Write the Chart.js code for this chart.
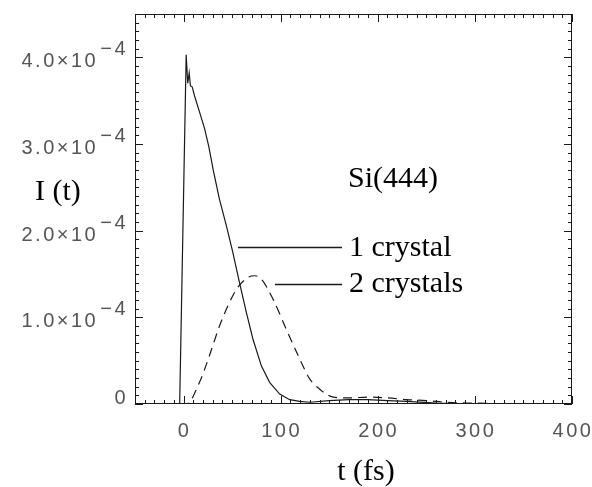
<!DOCTYPE html>
<html>
<head>
<meta charset="utf-8">
<script src="https://cdn.jsdelivr.net/npm/chart.js@4/dist/chart.umd.min.js"></script>
<style>
  body { margin: 0; background: #fff; }
  canvas { display: block; }
</style>
</head>
<body>
<canvas id="c" width="592" height="487"></canvas>
<script>
// time in fs, intensity in units of 1e-4
var t1 = [-50, -4, 2.7, 4.3, 5.8, 7.1, 8.9, 11.2, 16.4, 21.6, 26, 30.9, 37, 44, 50.5, 57.6, 64.6, 71.4, 80.1, 88.6, 99, 109.3, 119.6, 130, 150, 170, 190, 210, 230, 260, 300, 400];
var i1 = [0, 0, 4.03, 3.70, 3.82, 3.67, 3.66, 3.56, 3.37, 3.18, 2.97, 2.68, 2.36, 2.06, 1.76, 1.40, 1.06, 0.75, 0.44, 0.25, 0.115, 0.05, 0.03, 0.02, 0.04, 0.05, 0.05, 0.04, 0.03, 0.01, 0, 0];

var t2 = [-50, 3, 16.4, 26.7, 37, 45.6, 54.3, 66.3, 73.2, 80.1, 92.1, 105.9, 119.6, 129.9, 140.2, 154, 170, 190, 210, 230, 250, 270, 300, 350, 400];
var i2 = [0, 0, 0.25, 0.56, 0.90, 1.13, 1.32, 1.46, 1.48, 1.44, 1.21, 0.86, 0.52, 0.29, 0.17, 0.08, 0.07, 0.08, 0.07, 0.05, 0.04, 0.02, 0.01, 0, 0];

var seriesNames = ['1 crystal', '2 crystals'];
var xTicks = [0, 100, 200, 300, 400];
var yTicks = [0, 1, 2, 3, 4];
var yTickText = ['0', '1.0\u00d710', '2.0\u00d710', '3.0\u00d710', '4.0\u00d710'];
var yExp = '\u22124';

function pts(xs, ys) { return xs.map(function (x, k) { return { x: x, y: ys[k] }; }); }

var ink = '#1a1a1a';

var frame = {
  id: 'frame',
  afterDraw: function (chart) {
    var ctx = chart.ctx, a = chart.chartArea;
    var xs = chart.scales.x, ys = chart.scales.y;
    ctx.save();
    ctx.strokeStyle = ink;
    ctx.lineWidth = 1;
    ctx.strokeRect(a.left + 0.5, a.top + 0.5, a.right - a.left - 1, a.bottom - a.top - 1);

    // x ticks (minor every 10, major every 100), bottom and top, inward
    ctx.beginPath();
    for (var v = -50; v <= 400; v += 10) {
      var px = Math.round(xs.getPixelForValue(v)) + 0.5;
      var len = (v % 100 === 0) ? 8 : 4;
      ctx.moveTo(px, a.bottom); ctx.lineTo(px, a.bottom - len);
      ctx.moveTo(px, a.top); ctx.lineTo(px, a.top + len);
    }
    // y ticks (minor every 0.1, major every 1), left and right
    for (var k = 0; k <= 45; k++) {
      var yv = k / 10;
      var py = Math.round(ys.getPixelForValue(yv)) + 0.5;
      var l2 = (k % 10 === 0) ? 8 : 4;
      ctx.moveTo(a.left, py); ctx.lineTo(a.left + l2, py);
      ctx.moveTo(a.right, py); ctx.lineTo(a.right - l2, py);
    }
    ctx.stroke();

    // tick labels
    ctx.fillStyle = '#555';
    ctx.font = '20px "Liberation Sans", Arial, sans-serif';
    ctx.letterSpacing = '2.5px';
    ctx.textBaseline = 'alphabetic';
    ctx.textAlign = 'center';
    xTicks.forEach(function (v) {
      ctx.fillText(String(v), xs.getPixelForValue(v) + 1, 437);
    });
    ctx.textAlign = 'right';
    yTicks.forEach(function (v, k) {
      var py = ys.getPixelForValue(v);
      if (v === 0) {
        ctx.fillText(yTickText[k], 128, py);
        return;
      }
      ctx.fillText(yExp, 128, py - 2);
      var w = ctx.measureText(yExp).width;
      ctx.fillText(yTickText[k], 128 - w - 2, py + 10);
    });
    ctx.letterSpacing = '0px';

    // titles and annotations
    ctx.fillStyle = '#000';
    ctx.font = '30px "Liberation Serif", "Times New Roman", serif';
    ctx.textAlign = 'left';
    ctx.fillText('I (t)', 35, 200);
    ctx.fillText('Si(444)', 348, 187);
    ctx.fillText(seriesNames[0], 349, 256);
    ctx.fillText(seriesNames[1], 349, 292);
    ctx.textAlign = 'center';
    ctx.fillText('t (fs)', 366, 480);

    ctx.strokeStyle = ink;
    ctx.lineWidth = 1.5;
    ctx.beginPath();
    ctx.moveTo(238, 247.5); ctx.lineTo(342, 247.5);
    ctx.moveTo(275, 284.5); ctx.lineTo(342, 284.5);
    ctx.stroke();
    ctx.restore();
  }
};

new Chart(document.getElementById('c'), {
  type: 'line',
  data: {
    datasets: [{
      label: seriesNames[0],
      data: pts(t1, i1),
      borderColor: ink,
      borderWidth: 1.2,
      pointRadius: 0,
      tension: 0
    }, {
      label: seriesNames[1],
      data: pts(t2, i2),
      borderColor: ink,
      borderWidth: 1.2,
      borderDash: [9, 6],
      pointRadius: 0,
      tension: 0.3,
      cubicInterpolationMode: 'monotone'
    }]
  },
  options: {
    responsive: false,
    animation: false,
    layout: { padding: { left: 135, top: 14, right: 20, bottom: 83 } },
    plugins: { legend: { display: false }, tooltip: { enabled: false } },
    scales: {
      x: { type: 'linear', min: -50, max: 400, display: false },
      y: { type: 'linear', min: 0, max: 4.5, display: false }
    }
  },
  plugins: [frame]
});
</script>
</body>
</html>
